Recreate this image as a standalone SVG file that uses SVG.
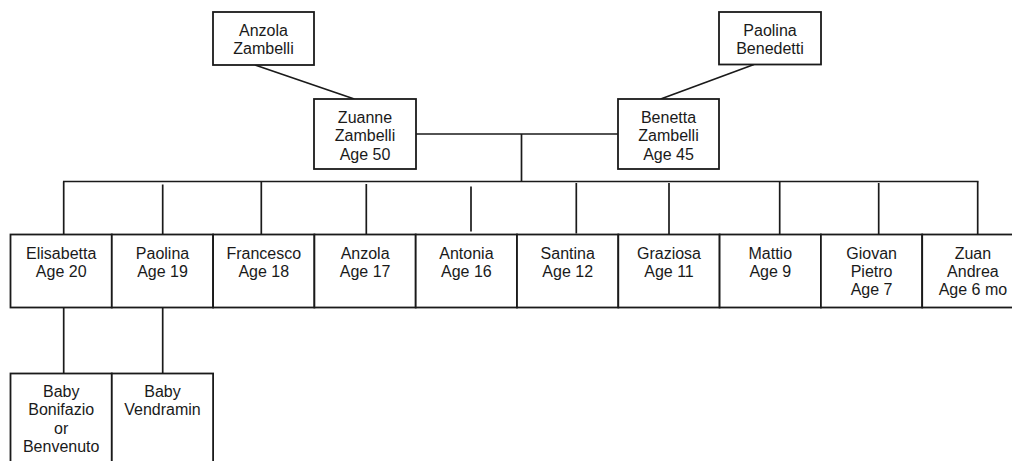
<svg xmlns="http://www.w3.org/2000/svg" width="1012" height="461" viewBox="0 0 1012 461">
<style>
.box{fill:#fff;stroke:#1a1a1a;stroke-width:1.8}
.ln{stroke:#1a1a1a;stroke-width:1.7;fill:none}
text{font-family:"Liberation Sans",Arial,Helvetica,sans-serif;font-size:16px;fill:#1a1a1a;text-anchor:middle}
</style>
<rect width="1012" height="461" fill="#fff"/>
<g id="connectors">
<line class="ln" x1="255" y1="65" x2="354.3" y2="99"/>
<line class="ln" x1="754" y1="64.5" x2="660.7" y2="99"/>
<line class="ln" x1="416" y1="134" x2="618" y2="134"/>
<line class="ln" x1="521.5" y1="134" x2="521.5" y2="181.5"/>
<line class="ln" x1="63" y1="181.5" x2="978.5" y2="181.5"/>
<line class="ln" x1="63.7" y1="181.5" x2="63.7" y2="234.5"/>
<line class="ln" x1="162.7" y1="184.5" x2="162.7" y2="234.5"/>
<line class="ln" x1="261.3" y1="181.5" x2="261.3" y2="234.5"/>
<line class="ln" x1="366.3" y1="184" x2="366.3" y2="234.5"/>
<line class="ln" x1="471" y1="186.5" x2="471" y2="231.5"/>
<line class="ln" x1="576.3" y1="183" x2="576.3" y2="233.5"/>
<line class="ln" x1="669" y1="183" x2="669" y2="234.5"/>
<line class="ln" x1="779.7" y1="181.5" x2="779.7" y2="234.5"/>
<line class="ln" x1="878.7" y1="183" x2="878.7" y2="234.5"/>
<line class="ln" x1="977.7" y1="181.5" x2="977.7" y2="234.5"/>
<line class="ln" x1="63.7" y1="307.5" x2="63.7" y2="373.5"/>
<line class="ln" x1="162.7" y1="307.5" x2="162.7" y2="373.5"/>
</g>
<g id="anzola-zambelli"><rect class="box" x="213" y="12" width="101" height="53"/><text x="263.5" y="36">Anzola</text><text x="263.5" y="54">Zambelli</text></g>
<g id="paolina-benedetti"><rect class="box" x="719" y="12" width="102" height="52.5"/><text x="770" y="36">Paolina</text><text x="770" y="54">Benedetti</text></g>
<g id="zuanne-zambelli"><rect class="box" x="314" y="99" width="102" height="70"/><text x="365" y="123">Zuanne</text><text x="365" y="141.3">Zambelli</text><text x="365" y="159.6">Age 50</text></g>
<g id="benetta-zambelli"><rect class="box" x="618" y="99" width="101" height="70"/><text x="668.5" y="123">Benetta</text><text x="668.5" y="141.3">Zambelli</text><text x="668.5" y="159.6">Age 45</text></g>
<g id="elisabetta"><rect class="box" x="10.5" y="234.5" width="101.3" height="73"/><text x="61.2" y="258.5">Elisabetta</text><text x="61.2" y="276.8">Age 20</text></g>
<g id="paolina"><rect class="box" x="111.8" y="234.5" width="101.3" height="73"/><text x="162.5" y="258.5">Paolina</text><text x="162.5" y="276.8">Age 19</text></g>
<g id="francesco"><rect class="box" x="213.1" y="234.5" width="101.3" height="73"/><text x="263.8" y="258.5">Francesco</text><text x="263.8" y="276.8">Age 18</text></g>
<g id="anzola"><rect class="box" x="314.4" y="234.5" width="101.3" height="73"/><text x="365.1" y="258.5">Anzola</text><text x="365.1" y="276.8">Age 17</text></g>
<g id="antonia"><rect class="box" x="415.7" y="234.5" width="101.3" height="73"/><text x="466.4" y="258.5">Antonia</text><text x="466.4" y="276.8">Age 16</text></g>
<g id="santina"><rect class="box" x="517" y="234.5" width="101.3" height="73"/><text x="567.7" y="258.5">Santina</text><text x="567.7" y="276.8">Age 12</text></g>
<g id="graziosa"><rect class="box" x="618.3" y="234.5" width="101.3" height="73"/><text x="669" y="258.5">Graziosa</text><text x="669" y="276.8">Age 11</text></g>
<g id="mattio"><rect class="box" x="719.6" y="234.5" width="101.3" height="73"/><text x="770.3" y="258.5">Mattio</text><text x="770.3" y="276.8">Age 9</text></g>
<g id="giovan-pietro"><rect class="box" x="820.9" y="234.5" width="101.3" height="73"/><text x="871.6" y="258.5">Giovan</text><text x="871.6" y="276.8">Pietro</text><text x="871.6" y="295.1">Age 7</text></g>
<g id="zuan-andrea"><rect class="box" x="922.2" y="234.5" width="101.3" height="73"/><text x="972.9" y="258.5">Zuan</text><text x="972.9" y="276.8">Andrea</text><text x="972.9" y="295.1">Age 6 mo</text></g>
<g id="baby-bonifazio"><rect class="box" x="10.5" y="373.5" width="101.3" height="100"/><text x="61.2" y="397">Baby</text><text x="61.2" y="415.3">Bonifazio</text><text x="61.2" y="433.6">or</text><text x="61.2" y="451.9">Benvenuto</text></g>
<g id="baby-vendramin"><rect class="box" x="111.8" y="373.5" width="101.3" height="100"/><text x="162.5" y="397">Baby</text><text x="162.5" y="415.3">Vendramin</text></g>
</svg>
